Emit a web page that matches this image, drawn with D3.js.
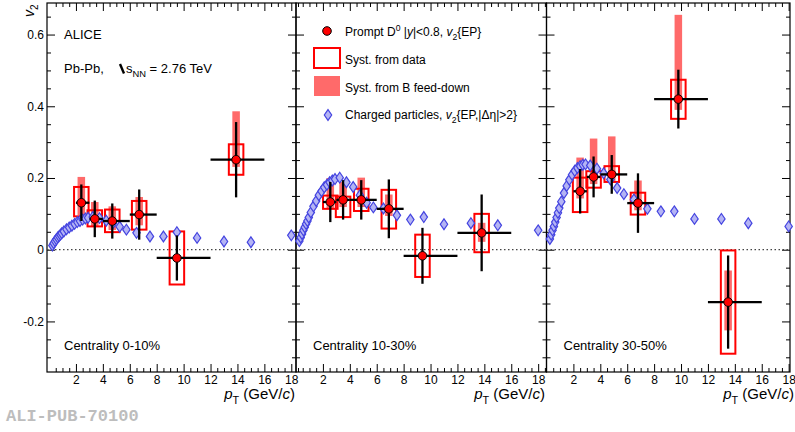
<!DOCTYPE html>
<html lang="en">

<head>
    <meta charset="UTF-8">
    <title>D0 v2 vs pT</title>
    <style>
        body {
            margin: 0;
            background: #fff;
        }

        svg {
            display: block;
            font-family: 'Liberation Sans', Arial, Helvetica, sans-serif;
        }

        .frame {
            fill: none;
            stroke: #000;
            stroke-width: 1.2px;
        }

        .axis path {
            display: none;
        }

        .axis line {
            stroke: #000;
            stroke-width: 1px;
        }

        .axis text {
            font-family: 'Liberation Sans', Arial, Helvetica, sans-serif;
            font-size: 12px;
            fill: #000;
        }

        .zero {
            stroke: #444;
            stroke-width: 1.2px;
            stroke-dasharray: 1.5, 2.5;
        }

        .fd {
            fill: #ff6a6a;
        }

        .syst {
            fill: none;
            stroke: #f00;
            stroke-width: 2px;
        }

        .charged {
            fill: #b4b4f4;
            stroke: #4444e0;
            stroke-width: 1.2px;
        }

        .err {
            stroke: #000;
            stroke-width: 2.3px;
        }

        .d0 {
            fill: #f00;
            stroke: #000;
            stroke-width: 1px;
        }

        .label {
            font-size: 12px;
            fill: #000;
        }

        .watermark {
            font-family: 'Liberation Mono', 'Courier New', monospace;
            font-weight: bold;
            font-size: 17px;
            fill: #bdbdbd;
        }
    </style>
</head>

<body>
    <script src="https://d3js.org/d3.v7.min.js"></script>
    <script>
        // ---- data ----
        const centralities = ['0-10%', '10-30%', '30-50%'];
        const ptBins = [2, 3, 4, 6, 8, 12, 16];

        const d0Pt = [
            [2.4, 3.4, 4.7, 6.7, 9.5, 13.9],
            [2.55, 3.5, 4.85, 6.9, 9.4, 13.8],
            [2.5, 3.5, 4.85, 6.8, 9.8, 13.5]
        ];
        const d0V2 = [
            [0.131, 0.086, 0.080, 0.098, -0.023, 0.251],
            [0.133, 0.139, 0.139, 0.114, -0.017, 0.047],
            [0.163, 0.203, 0.210, 0.130, 0.420, -0.146]
        ];
        const d0Stat = [
            [0.051, 0.051, 0.049, 0.070, 0.063, 0.105],
            [0.056, 0.055, 0.055, 0.082, 0.078, 0.107],
            [0.062, 0.057, 0.054, 0.083, 0.082, 0.130]
        ];
        // syst. from data (down / up)
        const d0SystLo = [
            [0.038, 0.021, 0.031, 0.042, 0.074, 0.042],
            [0.019, 0.048, 0.031, 0.055, 0.059, 0.054],
            [0.058, 0.030, 0.021, 0.032, 0.055, 0.144]
        ];
        const d0SystHi = [
            [0.044, 0.024, 0.032, 0.038, 0.074, 0.043],
            [0.018, 0.009, 0.031, 0.053, 0.059, 0.053],
            [0.038, 0.016, 0.023, 0.029, 0.054, 0.144]
        ];
        // syst. from B feed-down (down / up)
        const d0FdLo = [
            [0.035, 0.020, 0.025, 0.030, 0.000, 0.020],
            [0.020, 0.020, 0.020, 0.020, 0.000, 0.025],
            [0.020, 0.020, 0.020, 0.020, 0.030, 0.079]
        ];
        const d0FdHi = [
            [0.072, 0.047, 0.041, 0.049, 0.000, 0.135],
            [0.067, 0.050, 0.062, 0.040, 0.000, 0.028],
            [0.094, 0.107, 0.106, 0.063, 0.235, 0.088]
        ];

        // charged particles v2{EP,|deta|>2}
        const chPt = [0.25, 0.35, 0.45, 0.55, 0.65, 0.75, 0.85, 0.95, 1.1, 1.3, 1.5, 1.7, 1.9, 2.1, 2.3, 2.5,
            2.7, 2.9, 3.25, 3.75, 4.25, 4.75, 5.25, 5.75, 6.5, 7.5, 8.5, 9.5, 11, 13, 15, 18];
        const chV2 = [
            [0.012, 0.018, 0.024, 0.029, 0.034, 0.038, 0.042, 0.046, 0.051, 0.057, 0.062, 0.067, 0.072, 0.077,
                0.080, 0.084, 0.087, 0.089, 0.091, 0.088, 0.081, 0.074, 0.064, 0.056, 0.047, 0.037, 0.037, 0.049,
                0.033, 0.023, 0.021, 0.040],
            [0.024, 0.034, 0.044, 0.054, 0.063, 0.072, 0.080, 0.090, 0.104, 0.121, 0.136, 0.152, 0.163, 0.174,
                0.181, 0.188, 0.193, 0.197, 0.201, 0.188, 0.175, 0.152, 0.131, 0.118, 0.115, 0.096, 0.084, 0.091,
                0.071, 0.074, 0.068, 0.054],
            [0.030, 0.042, 0.054, 0.065, 0.077, 0.090, 0.103, 0.116, 0.134, 0.158, 0.178, 0.195, 0.209, 0.220,
                0.228, 0.233, 0.237, 0.238, 0.235, 0.226, 0.213, 0.196, 0.172, 0.155, 0.140, 0.114, 0.107, 0.107,
                0.086, 0.086, 0.074, 0.065]
        ];

        const xTickValues = [2, 4, 6, 8, 10, 12, 14, 16, 18];
        const yTickValues = [-0.2, 0, 0.2, 0.4, 0.6];
        const yTickLabels = ['-0.2', '0', '0.2', '0.4', '0.6'];

        // ---- layout ----
        const width = 795;
        const height = 432;
        const plotTop = 3;
        const plotBottom = 372;
        const panels = [
            { x0: 47, x1: 296, min: -0.15, max: 18.35, titleX: 295 },
            { x0: 296, x1: 546.5, min: 0, max: 18.62, titleX: 545 },
            { x0: 546.5, x1: 790, min: 0, max: 18.1, titleX: 794 }
        ];

        const yScale = d3.scaleLinear()
            .domain([-0.341, 0.688])
            .range([plotBottom, plotTop]);

        const svg = d3.select('body')
            .append('svg')
            .attr('width', width)
            .attr('height', height);

        function richText(sel, parts, size) {
            let shift = 0;
            parts.forEach(([s, kind]) => {
                const t = sel.append('tspan').text(s);
                let target = 0;
                if (kind === 'sub') {
                    target = size * 0.3;
                    t.attr('font-size', size * 0.72);
                }
                if (kind === 'sup') {
                    target = -size * 0.4;
                    t.attr('font-size', size * 0.72);
                }
                if (kind === 'i') t.attr('font-style', 'italic');
                t.attr('dy', target - shift);
                shift = target;
            });
        }

        const diamond = 'M0,-5.4L3.7,0L0,5.4L-3.7,0Z';
        const minorX = d3.range(0, 18.6, 0.5).filter(d => d % 2 !== 0);
        const minorY = d3.range(-0.3, 0.66, 0.05).filter(d => Math.abs(Math.round(d * 5) - d * 5) > 0.01);

        panels.forEach((p, i) => {
            const xScale = d3.scaleLinear()
                .domain([p.min, p.max])
                .range([p.x0, p.x1]);
            const g = svg.append('g');

            // axes: ticks inward on all four sides
            g.append('g').attr('class', 'axis')
                .attr('transform', `translate(0, ${plotBottom})`)
                .call(d3.axisBottom(xScale).tickValues(xTickValues).tickSize(-8).tickPadding(3));
            g.append('g').attr('class', 'axis')
                .attr('transform', `translate(0, ${plotBottom})`)
                .call(d3.axisBottom(xScale).tickValues(minorX).tickSize(-4).tickFormat(''));
            g.append('g').attr('class', 'axis')
                .attr('transform', `translate(0, ${plotTop})`)
                .call(d3.axisTop(xScale).tickValues(xTickValues).tickSize(-8).tickFormat(''));
            g.append('g').attr('class', 'axis')
                .attr('transform', `translate(0, ${plotTop})`)
                .call(d3.axisTop(xScale).tickValues(minorX).tickSize(-4).tickFormat(''));

            g.append('g').attr('class', 'axis')
                .attr('transform', `translate(${p.x0}, 0)`)
                .call(d3.axisLeft(yScale).tickValues(yTickValues).tickSize(-8).tickPadding(3)
                    .tickFormat((d, k) => i === 0 ? yTickLabels[k] : ''));
            g.append('g').attr('class', 'axis')
                .attr('transform', `translate(${p.x0}, 0)`)
                .call(d3.axisLeft(yScale).tickValues(minorY).tickSize(-4).tickFormat(''));
            g.append('g').attr('class', 'axis')
                .attr('transform', `translate(${p.x1}, 0)`)
                .call(d3.axisRight(yScale).tickValues(yTickValues).tickSize(-8).tickFormat(''));
            g.append('g').attr('class', 'axis')
                .attr('transform', `translate(${p.x1}, 0)`)
                .call(d3.axisRight(yScale).tickValues(minorY).tickSize(-4).tickFormat(''));

            g.append('rect')
                .attr('class', 'frame')
                .attr('x', p.x0)
                .attr('y', plotTop)
                .attr('width', p.x1 - p.x0)
                .attr('height', plotBottom - plotTop);

            g.append('line')
                .attr('class', 'zero')
                .attr('x1', p.x0)
                .attr('x2', p.x1)
                .attr('y1', yScale(0))
                .attr('y2', yScale(0));

            const pts = d0Pt[i].map((pt, j) => ({
                pt: pt,
                lo: ptBins[j],
                hi: ptBins[j + 1],
                v: d0V2[i][j],
                stat: d0Stat[i][j],
                sLo: d0SystLo[i][j],
                sHi: d0SystHi[i][j],
                fLo: d0FdLo[i][j],
                fHi: d0FdHi[i][j]
            }));

            // B feed-down band
            g.selectAll('.fd')
                .data(pts.filter(d => d.fLo + d.fHi > 0))
                .enter().append('rect')
                .attr('class', 'fd')
                .attr('x', d => xScale(d.pt - 0.28))
                .attr('width', d => xScale(d.pt + 0.28) - xScale(d.pt - 0.28))
                .attr('y', d => yScale(d.v + d.fHi))
                .attr('height', d => yScale(d.v - d.fLo) - yScale(d.v + d.fHi));

            // syst. from data
            g.selectAll('.syst')
                .data(pts)
                .enter().append('rect')
                .attr('class', 'syst')
                .attr('x', d => xScale(d.pt - 0.54))
                .attr('width', d => xScale(d.pt + 0.54) - xScale(d.pt - 0.54))
                .attr('y', d => yScale(d.v + d.sHi))
                .attr('height', d => yScale(d.v - d.sLo) - yScale(d.v + d.sHi));

            // charged particles
            g.selectAll('.charged')
                .data(chPt.map((pt, j) => ({ pt: pt, v: chV2[i][j] })))
                .enter().append('path')
                .attr('class', 'charged')
                .attr('d', diamond)
                .attr('transform', d => `translate(${xScale(d.pt)}, ${yScale(d.v)})`);

            // D0 error bars and markers
            g.selectAll('.errx')
                .data(pts)
                .enter().append('line')
                .attr('class', 'err')
                .attr('x1', d => xScale(d.lo))
                .attr('x2', d => xScale(d.hi))
                .attr('y1', d => yScale(d.v))
                .attr('y2', d => yScale(d.v));
            g.selectAll('.erry')
                .data(pts)
                .enter().append('line')
                .attr('class', 'err')
                .attr('x1', d => xScale(d.pt))
                .attr('x2', d => xScale(d.pt))
                .attr('y1', d => yScale(d.v - d.stat))
                .attr('y2', d => yScale(d.v + d.stat));
            g.selectAll('.d0')
                .data(pts)
                .enter().append('circle')
                .attr('class', 'd0')
                .attr('r', 4.3)
                .attr('cx', d => xScale(d.pt))
                .attr('cy', d => yScale(d.v));

            g.append('text')
                .attr('class', 'label')
                .attr('x', p.x0 + 17)
                .attr('y', 350)
                .style('font-size', '13px')
                .text('Centrality ' + centralities[i]);

            const title = g.append('text')
                .attr('class', 'label')
                .attr('x', p.titleX)
                .attr('y', 399)
                .attr('text-anchor', 'end')
                .style('font-size', '15px');
            richText(title, [['p', 'i'], ['T', 'sub'], [' (GeV/', ''], ['c', 'i'], [')', '']], 15);
        });

        // y title
        const yTitle = svg.append('text')
            .attr('class', 'label')
            .attr('transform', 'translate(34, 17) rotate(-90)')
            .style('font-size', '14px');
        richText(yTitle, [['v', 'i'], ['2', 'sub']], 14);

        // ALICE labels
        svg.append('text')
            .attr('class', 'label')
            .attr('x', 64)
            .attr('y', 39)
            .style('font-size', '13px')
            .text('ALICE');
        svg.append('text')
            .attr('class', 'label')
            .attr('x', 64)
            .attr('y', 73)
            .style('font-size', '13px')
            .text('Pb-Pb,');
        svg.append('line')
            .attr('x1', 120)
            .attr('y1', 64)
            .attr('x2', 124)
            .attr('y2', 73.5)
            .attr('stroke', '#000')
            .attr('stroke-width', 2.4);
        const energy = svg.append('text')
            .attr('class', 'label')
            .attr('x', 126)
            .attr('y', 73)
            .style('font-size', '13px');
        richText(energy, [['s', ''], ['NN', 'sub'], [' = 2.76 TeV', '']], 13);

        // legend
        const legend = svg.append('g');
        legend.append('circle')
            .attr('class', 'd0')
            .attr('r', 4.3)
            .attr('cx', 327)
            .attr('cy', 31);
        legend.append('rect')
            .attr('class', 'syst')
            .attr('x', 314)
            .attr('y', 48)
            .attr('width', 26)
            .attr('height', 20);
        legend.append('rect')
            .attr('class', 'fd')
            .attr('x', 314)
            .attr('y', 76)
            .attr('width', 26)
            .attr('height', 20);
        legend.append('path')
            .attr('class', 'charged')
            .attr('d', diamond)
            .attr('transform', 'translate(328, 115)');

        const l1 = legend.append('text').attr('class', 'label').attr('x', 345).attr('y', 36);
        richText(l1, [['Prompt D', ''], ['0', 'sup'], [' |', ''], ['y', 'i'], ['|<0.8, ', ''], ['v', 'i'], ['2', 'sub'], ['{EP}', '']], 12);
        legend.append('text').attr('class', 'label').attr('x', 345).attr('y', 64).text('Syst. from data');
        legend.append('text').attr('class', 'label').attr('x', 345).attr('y', 92).text('Syst. from B feed-down');
        const l4 = legend.append('text').attr('class', 'label').attr('x', 345).attr('y', 119);
        richText(l4, [['Charged particles, ', ''], ['v', 'i'], ['2', 'sub'], ['{EP,|\u0394\u03b7|>2}', '']], 12);

        svg.append('text')
            .attr('class', 'watermark')
            .attr('x', 6)
            .attr('y', 421)
            .text('ALI-PUB-70100');
    </script>
</body>

</html>
